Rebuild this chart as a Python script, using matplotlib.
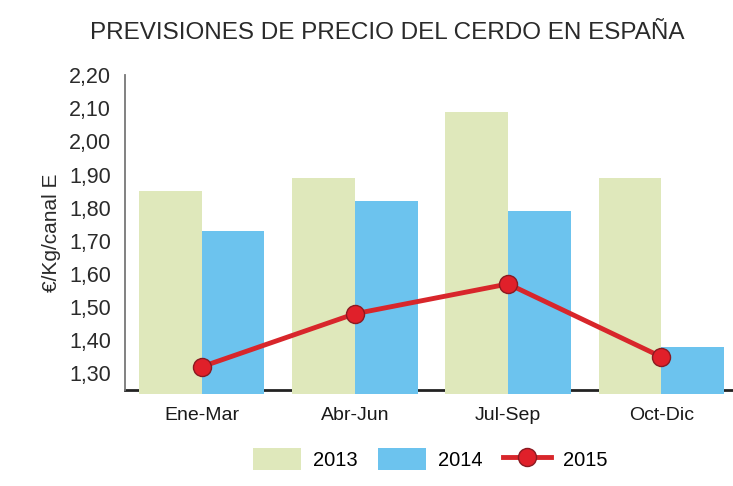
import numpy as np
import matplotlib.pyplot as plt

plt.rcParams['font.family'] = ['Liberation Sans', 'DejaVu Sans']

trimestres = ['Ene-Mar', 'Abr-Jun', 'Jul-Sep', 'Oct-Dic']
precio_2013 = [1.85, 1.89, 2.09, 1.89]
precio_2014 = [1.73, 1.82, 1.79, 1.38]
precio_2015 = [1.32, 1.48, 1.57, 1.35]
yticks = [1.30, 1.40, 1.50, 1.60, 1.70, 1.80, 1.90, 2.00, 2.10, 2.20]

fig = plt.figure(figsize=(7.33, 4.86), dpi=100)
ax = fig.add_axes([0.1705, 0.1975, 0.83, 0.648])

x = np.arange(len(trimestres))
w = 0.41
base = 1.238
b13 = ax.bar(x - w / 2, np.array(precio_2013) - base, w, bottom=base,
             color='#dfe8bb', label='2013', zorder=3, clip_on=False)
b14 = ax.bar(x + w / 2, np.array(precio_2014) - base, w, bottom=base,
             color='#6cc3ee', label='2014', zorder=3, clip_on=False)
l15, = ax.plot(x, precio_2015, color='#d8262b', lw=3.5, marker='o', ms=13,
               mfc='#e0202a', mec='#8a1a22', mew=1, label='2015', zorder=4)

ax.set_ylim(1.25, 2.20)
ax.set_xlim(-0.5, 3.47)
ax.set_yticks(yticks)
ax.set_yticklabels([f'{v:.2f}'.replace('.', ',') for v in yticks],
                   fontsize=15.5, color='#2a2a2a')
ax.set_xticks(x)
ax.set_xticklabels(trimestres, fontsize=14, color='#1a1a1a')
ax.tick_params(axis='both', length=0)
ax.tick_params(axis='y', pad=10)
ax.tick_params(axis='x', pad=12)

for s in ['top', 'right']:
    ax.spines[s].set_visible(False)
ax.spines['left'].set_color('#777777')
ax.spines['left'].set_linewidth(1.3)
ax.spines['bottom'].set_color('#222222')
ax.spines['bottom'].set_linewidth(2)
ax.spines['bottom'].set_zorder(1)

ax.set_ylabel('€/Kg/canal E', fontsize=15, color='#2a2a2a', labelpad=6)
fig.suptitle('PREVISIONES DE PRECIO DEL CERDO EN ESPAÑA', fontsize=17.5,
             color='#2a2a2a', y=0.955, x=0.528)

fig.legend([b13, b14, l15], ['2013', '2014', '2015'], loc='lower center',
           ncol=3, frameon=False, fontsize=14.5, bbox_to_anchor=(0.587, -0.005),
           handlelength=2.4, handleheight=1.3, columnspacing=1.0,
           handletextpad=0.6)

fig.savefig('out.png')
